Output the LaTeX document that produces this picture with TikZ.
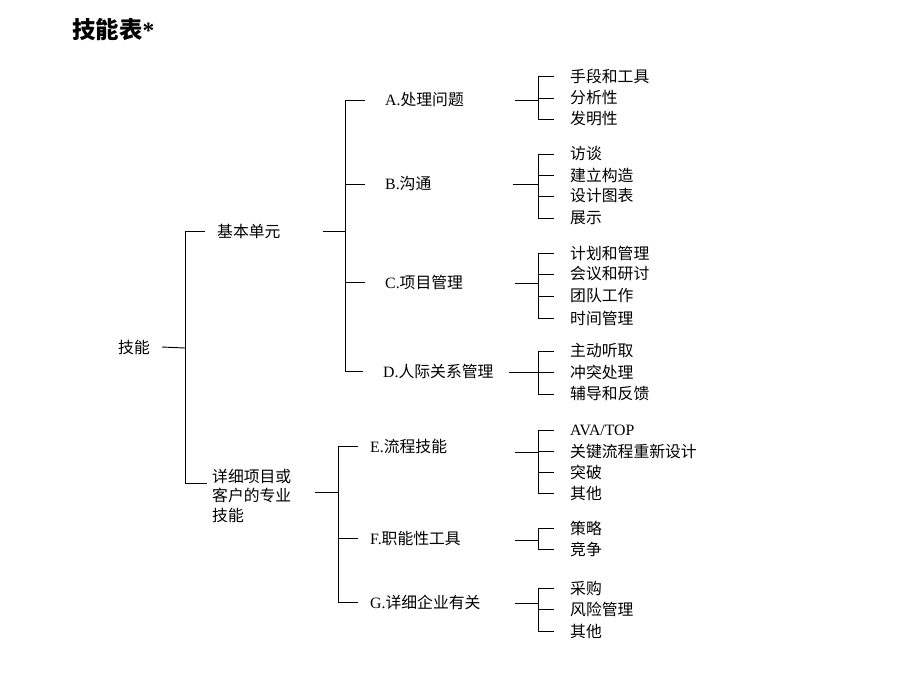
\documentclass[tikz,border=0pt]{standalone}
\usepackage{fontspec}
\setmainfont{Liberation Serif}
\newfontfamily\cjk{Noto Sans CJK SC}
\newcommand{\txtsize}{\fontsize{13.5}{16.5}\selectfont}
\tikzset{
  item/.style={anchor=west,inner sep=0pt,font=\txtsize},
  link/.style={draw=black,line width=0.8pt}
}
\begin{document}
\begin{tikzpicture}[x=0.3mm,y=-0.3mm]
\useasboundingbox (0,0) rectangle (920,690);

% Title
\node (title) [anchor=west,inner sep=0pt,font=\fontsize{20}{24}\selectfont\bfseries] at (72,30) {{\cjk 技能表}*};

% Root and first level
\node (root) [item] at (118,347) {\cjk 技能};
\node (basic) [item] at (217,231) {\cjk 基本单元};
\node (detail) [item,anchor=north west,align=left] at (212,469) {\cjk 详细项目或\\\cjk 客户的专业\\\cjk 技能};
\coordinate (f0) at (185,348);
\coordinate (tD) at (207,483);
\draw[link] ([xshift=10]root.east) -- (f0);
\draw[link] (f0) |- ([xshift=-10]basic.west);
\draw[link] (f0) |- (tD);

% Second level
\node (A) [item] at (385,100) {A.{\cjk 处理问题}};
\node (B) [item] at (385,184) {B.{\cjk 沟通}};
\node (C) [item] at (385,282) {C.{\cjk 项目管理}};
\node (D) [item] at (383,371) {D.{\cjk 人际关系管理}};
\node (E) [item] at (370,446) {E.{\cjk 流程技能}};
\node (F) [item] at (370,538) {F.{\cjk 职能性工具}};
\node (G) [item] at (370,602) {G.{\cjk 详细企业有关}};
\coordinate (f1) at (345,231);
\coordinate (f2) at (338,492);
\draw[link] ([xshift=36]basic.east) -- (f1);
\foreach \c in {A,B,C,D} \draw[link] (f1) |- ([xshift=-17]\c.west);
\draw[link] (315,492) -- (f2);
\foreach \c in {E,F,G} \draw[link] (f2) |- ([xshift=-10]\c.west);

% Leaves
\foreach \n/\y/\t in {a1/76/手段和工具,a2/98/分析性,a3/119/发明性,
  b1/154/访谈,b2/175/建立构造,b3/196/设计图表,b4/218/展示,
  c1/253/计划和管理,c2/274/会议和研讨,c3/296/团队工作,c4/318/时间管理,
  d1/351/主动听取,d2/372/冲突处理,d3/394/辅导和反馈,
  e2/451/关键流程重新设计,e3/472/突破,e4/493/其他,
  g1/588/采购,g2/609/风险管理,g3/631/其他,
  h1/528/策略,h2/549/竞争}
  \node (\n) [item] at (570,\y) {\cjk \t};
\node (e1) [item] at (570,430) {AVA/TOP};

% Forks to leaves
\foreach \p/\y/\s/\l in {A/100/515/{a1,a2,a3},B/184/513/{b1,b2,b3,b4},
  C/283/515/{c1,c2,c3,c4},D/372/509/{d1,d2,d3},E/452/515/{e1,e2,e3,e4},
  F/540/515/{h1,h2},G/603/515/{g1,g2,g3}}{
  \coordinate (j\p) at (538,\y);
  \draw[link] (\s,\y) -- (j\p);
  \foreach \c in \l \draw[link] (j\p) |- ([xshift=-14]\c.west);
}
\end{tikzpicture}
\end{document}
